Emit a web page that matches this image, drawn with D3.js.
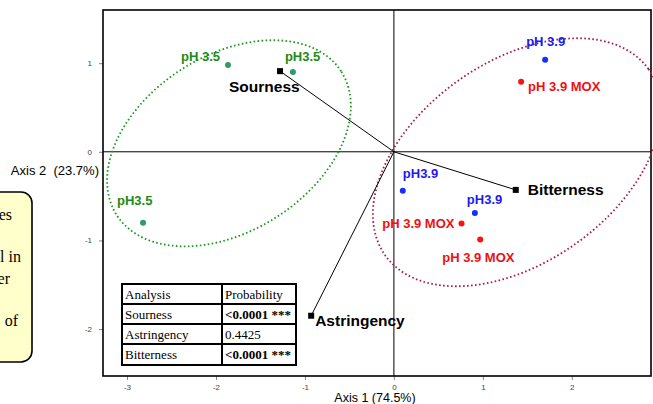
<!DOCTYPE html>
<html><head><meta charset="utf-8">
<script src="https://cdn.jsdelivr.net/npm/d3@7"></script>
<style>
body{margin:0;background:#fff;}
svg{display:block;}
</style></head>
<body>
<svg id="chart" width="653" height="404"></svg>
<script>
// ---- data ----
const groupNames = ["pH 3.5", "pH 3.9", "pH 3.9 MOX"];
const pointLabels = ["pH 3.5","pH3.5","pH3.5","pH 3.9","pH3.9","pH3.9","pH 3.9 MOX","pH 3.9 MOX","pH 3.9 MOX"];
const pointGroup  = [0,0,0,1,1,1,2,2,2];
const pointX = [-1.865, -1.135, -2.82, 1.70, 0.10, 0.91, 1.43, 0.76, 0.97];
const pointY = [0.98, 0.90, -0.80, 1.04, -0.44, -0.69, 0.79, -0.81, -0.99];
const vectorNames = ["Sourness","Bitterness","Astringency"];
const vectorX = [-1.28, 1.37, -0.93];
const vectorY = [0.91, -0.43, -1.85];
const ellipseCX = [-1.854, 1.382];
const ellipseCY = [0.096, -0.118];
const ellipseA = [1.50, 1.815];
const ellipseB = [0.99, 1.133];
const ellipseAngle = [32.8, 35.4];
const xTicks = [-3,-2,-1,0,1,2];
const yTicks = [1,0,-1,-2];
const tableHeader = ["Analysis","Probability"];
const tableRows = [["Sourness","<0.0001 ***"],["Astringency","0.4425"],["Bitterness","<0.0001 ***"]];
const tableBold = [true,false,true];
const noteLines = ["es","","l in","er","","of"];

// ---- layout / style ----
const L=103,R=651,T=10,B=376;
const x = d3.scaleLinear().domain([-3.27,2.89]).range([L,R]);
const y = d3.scaleLinear().domain([1.60,-2.53]).range([T,B]);
const textCol = ["#1a8c1a","#1a1af5","#f01010"];
const dotCol = ["#2f9a6a","#1030ff","#ff1010"];
const ellCol = ["#1a9a1a","#a81a55"];
// label offsets (px) relative to point: [dx, dy, anchor]
const labelOff = [[-47,-4,"start"],[-8,-11,"start"],[-26,-18,"start"],[-19,-14,"start"],[0,-13,"start"],[-8,-9,"start"],[7,9,"start"],[-7,4,"end"],[-38,22,"start"]];
const vecOff = [[-51,21],[12,5],[4,10]];

const svg = d3.select("#chart");
const sans = "'Liberation Sans', Arial, sans-serif";
const serif = "'Liberation Serif', 'Times New Roman', serif";

// note box (partially off-canvas)
svg.append("rect").attr("x",-120).attr("y",192).attr("width",152).attr("height",170)
  .attr("rx",11).attr("fill","#ffffcc").attr("stroke","#000").attr("stroke-width",1.6);
const noteEnds=[12,0,21,10,0,18];
noteLines.forEach((t,i)=>{
  svg.append("text").attr("x",noteEnds[i]).attr("y",220+i*21.2).attr("text-anchor","end")
    .attr("font-family",serif).attr("font-size",16).attr("fill","#000").text(t);
});

// axes ticks
const fmt = d => String(d);
const gx = svg.append("g").attr("transform",`translate(0,${B})`)
  .call(d3.axisBottom(x).tickValues(xTicks).tickSize(4).tickSizeOuter(0).tickFormat(fmt));
const gy = svg.append("g").attr("transform",`translate(${L},0)`)
  .call(d3.axisLeft(y).tickValues(yTicks).tickSize(4).tickSizeOuter(0).tickFormat(fmt));
[gx,gy].forEach(g=>{
  g.select(".domain").remove();
  g.selectAll("line").attr("stroke","#888");
  g.selectAll("text").attr("fill","#444").attr("font-family",sans).attr("font-size",8);
});
gx.selectAll("text").attr("dy","0.9em");
gy.selectAll("text").attr("dx","-4");

// zero lines
svg.append("line").attr("x1",x(0)).attr("x2",x(0)).attr("y1",T).attr("y2",B).attr("stroke","#000").attr("stroke-width",1);
svg.append("line").attr("x1",L).attr("x2",R).attr("y1",y(0)).attr("y2",y(0)).attr("stroke","#000").attr("stroke-width",1);

// frame
svg.append("rect").attr("x",L).attr("y",T).attr("width",R-L).attr("height",B-T)
  .attr("fill","none").attr("stroke","#000").attr("stroke-width",1.6);

// ellipses
ellipseCX.forEach((cx,i)=>{
  const th = ellipseAngle[i]*Math.PI/180;
  const pts = d3.range(0,361,2).map(a=>{
    const t=a*Math.PI/180;
    const ex = cx + ellipseA[i]*Math.cos(th)*Math.cos(t) - ellipseB[i]*Math.sin(th)*Math.sin(t);
    const ey = ellipseCY[i] + ellipseA[i]*Math.sin(th)*Math.cos(t) + ellipseB[i]*Math.cos(th)*Math.sin(t);
    return [x(ex),y(ey)];
  });
  svg.append("path").attr("d",d3.line()(pts)+"Z").attr("fill","none")
    .attr("stroke",ellCol[i]).attr("stroke-width",1.8).attr("stroke-dasharray","1.6 2.4");
});

// vectors
vectorNames.forEach((n,i)=>{
  svg.append("line").attr("x1",x(0)).attr("y1",y(0)).attr("x2",x(vectorX[i])).attr("y2",y(vectorY[i]))
    .attr("stroke","#000").attr("stroke-width",1);
  svg.append("rect").attr("x",x(vectorX[i])-3).attr("y",y(vectorY[i])-3).attr("width",6).attr("height",6).attr("fill","#000");
  svg.append("text").attr("x",x(vectorX[i])+vecOff[i][0]).attr("y",y(vectorY[i])+vecOff[i][1])
    .attr("font-family",sans).attr("font-weight","bold").attr("font-size",15.5).attr("fill","#000").text(n);
});

// points
pointX.forEach((px,i)=>{
  const g=pointGroup[i];
  svg.append("circle").attr("cx",x(px)).attr("cy",y(pointY[i])).attr("r",3).attr("fill",dotCol[g]);
  svg.append("text").attr("x",x(px)+labelOff[i][0]).attr("y",y(pointY[i])+labelOff[i][1])
    .attr("text-anchor",labelOff[i][2])
    .attr("font-family",sans).attr("font-weight","bold").attr("font-size",13).attr("fill",textCol[g]).text(pointLabels[i]);
});

// table
const tx=[122,222,296], ty=[284,304,324,344,365];
const tbl = svg.append("g");
tbl.append("rect").attr("x",tx[0]).attr("y",ty[0]).attr("width",tx[2]-tx[0]).attr("height",ty[4]-ty[0]).attr("fill","#fff");
const allRows=[tableHeader].concat(tableRows);
allRows.forEach((r,ri)=>{
  r.forEach((c,ci)=>{
    tbl.append("text").attr("x",tx[ci]+3).attr("y",ty[ri]+14.5)
      .attr("font-family",serif).attr("font-size",13)
      .attr("font-weight",(ci===1&&ri>0&&tableBold[ri-1])?"bold":"normal").attr("fill","#000").text(c);
  });
});
ty.forEach(v=>tbl.append("line").attr("x1",tx[0]).attr("x2",tx[2]).attr("y1",v).attr("y2",v).attr("stroke","#000").attr("stroke-width",2));
tx.forEach(v=>tbl.append("line").attr("x1",v).attr("x2",v).attr("y1",ty[0]-1).attr("y2",ty[4]+1).attr("stroke","#000").attr("stroke-width",2));

// axis titles
svg.append("text").attr("x",375).attr("y",402).attr("text-anchor","middle")
  .attr("font-family",sans).attr("font-size",12.5).attr("fill","#000").text("Axis 1 (74.5%)");
svg.append("text").attr("x",99).attr("y",175).attr("text-anchor","end").attr("xml:space","preserve")
  .style("white-space","pre")
  .attr("font-family",sans).attr("font-size",13).attr("fill","#000").text("Axis 2  (23.7%)");
</script>
</body></html>
